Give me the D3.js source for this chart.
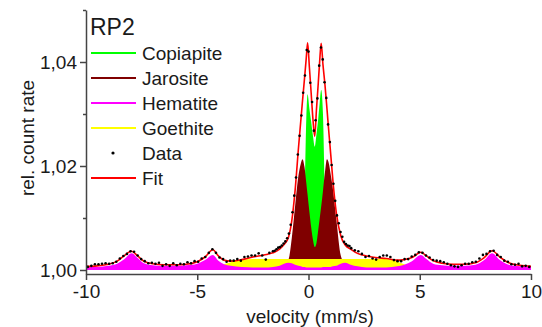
<!DOCTYPE html>
<html>
<head>
<meta charset="utf-8">
<script src="https://cdn.jsdelivr.net/npm/d3@7"></script>
<style>
body { margin: 0; background: #fff; }
svg text { font-family: "Liberation Sans", Arial, sans-serif; fill: #1a1a1a; }
</style>
</head>
<body>
<div id="chart"></div>
<script>
var width = 542;
var height = 327;

// velocity grid of the fitted sub-spectra (mm/s)
var velocity = [-10, -9.5, -9.0, -8.6, -8.3, -7.95, -7.7, -7.4, -7.0, -6.5,
  -6.0, -5.5, -5.0, -4.65, -4.3, -4.05, -3.8, -3.5, -3.0, -2.5,
  -2.0, -1.6, -1.3, -1.1, -0.9, -0.75, -0.6, -0.45, -0.35, -0.27,
  -0.18, -0.1, -0.04, 0.04, 0.12, 0.2, 0.28, 0.36, 0.44, 0.5,
  0.57, 0.65, 0.74, 0.83, 0.92, 1.0, 1.1, 1.25, 1.45, 1.65,
  1.9, 2.2, 2.6, 3.0, 3.5, 4.0, 4.3, 4.65, 5.05, 5.3,
  5.6, 6.0, 6.5, 7.0, 7.5, 7.9, 8.25, 8.6, 9.0, 9.5,
  10];

var copiapite = [1.0000, 1.0000, 1.0000, 1.0000, 1.0000, 1.0000, 1.0000, 1.0000, 1.0000, 1.0000,
  1.0000, 1.0000, 1.0000, 1.0000, 1.0000, 1.0000, 1.0000, 1.0000, 1.0000, 1.0000,
  1.0000, 1.0000, 1.0001, 1.0002, 1.0003, 1.0005, 1.0008, 1.0014, 1.0025, 1.0045,
  1.0120, 1.0290, 1.0338, 1.0310, 1.0285, 1.0258, 1.0237, 1.0262, 1.0292, 1.0320,
  1.0346, 1.0300, 1.0130, 1.0050, 1.0028, 1.0018, 1.0012, 1.0007, 1.0004, 1.0003,
  1.0002, 1.0001, 1.0000, 1.0000, 1.0000, 1.0000, 1.0000, 1.0000, 1.0000, 1.0000,
  1.0000, 1.0000, 1.0000, 1.0000, 1.0000, 1.0000, 1.0000, 1.0000, 1.0000, 1.0000,
  1.0000];

var jarosite = [1.0000, 1.0000, 1.0000, 1.0000, 1.0000, 1.0000, 1.0000, 1.0000, 1.0000, 1.0000,
  1.0000, 1.0000, 1.0000, 1.0000, 1.0000, 1.0000, 1.0000, 1.0000, 1.0000, 1.0001,
  1.0002, 1.0004, 1.0007, 1.0011, 1.0020, 1.0062, 1.0124, 1.0182, 1.0204, 1.0213,
  1.0198, 1.0168, 1.0144, 1.0112, 1.0082, 1.0058, 1.0044, 1.0052, 1.0078, 1.0098,
  1.0122, 1.0152, 1.0188, 1.0213, 1.0204, 1.0183, 1.0155, 1.0098, 1.0028, 1.0012,
  1.0007, 1.0004, 1.0002, 1.0001, 1.0000, 1.0000, 1.0000, 1.0000, 1.0000, 1.0000,
  1.0000, 1.0000, 1.0000, 1.0000, 1.0000, 1.0000, 1.0000, 1.0000, 1.0000, 1.0000,
  1.0000];

var hematite = [1.0006, 1.0006, 1.0008, 1.0012, 1.0020, 1.0032, 1.0024, 1.0013, 1.0009, 1.0008,
  1.0008, 1.0009, 1.0012, 1.0019, 1.0029, 1.0018, 1.0011, 1.0008, 1.0006, 1.0005,
  1.0005, 1.0006, 1.0008, 1.0012, 1.0014, 1.0013, 1.0010, 1.0008, 1.0007, 1.0006,
  1.0006, 1.0005, 1.0005, 1.0005, 1.0005, 1.0005, 1.0005, 1.0005, 1.0005, 1.0005,
  1.0005, 1.0006, 1.0006, 1.0006, 1.0006, 1.0006, 1.0007, 1.0008, 1.0012, 1.0014,
  1.0010, 1.0007, 1.0005, 1.0005, 1.0005, 1.0007, 1.0010, 1.0017, 1.0029, 1.0021,
  1.0012, 1.0009, 1.0008, 1.0008, 1.0010, 1.0019, 1.0032, 1.0019, 1.0010, 1.0007,
  1.0006];

var goethite = [1.0001, 1.0001, 1.0001, 1.0001, 1.0001, 1.0001, 1.0001, 1.0001, 1.0001, 1.0001,
  1.0001, 1.0002, 1.0002, 1.0003, 1.0004, 1.0007, 1.0011, 1.0015, 1.0019, 1.0021,
  1.0021, 1.0021, 1.0021, 1.0021, 1.0021, 1.0021, 1.0021, 1.0021, 1.0021, 1.0021,
  1.0021, 1.0021, 1.0021, 1.0021, 1.0021, 1.0021, 1.0021, 1.0021, 1.0021, 1.0021,
  1.0021, 1.0021, 1.0021, 1.0021, 1.0021, 1.0021, 1.0021, 1.0021, 1.0021, 1.0021,
  1.0021, 1.0021, 1.0021, 1.0021, 1.0021, 1.0016, 1.0011, 1.0006, 1.0004, 1.0003,
  1.0002, 1.0001, 1.0001, 1.0001, 1.0001, 1.0001, 1.0001, 1.0001, 1.0001, 1.0001,
  1.0001];

var fit = [1.0007, 1.0008, 1.0011, 1.0017, 1.0027, 1.0036, 1.0028, 1.0017, 1.0012, 1.0010,
  1.0010, 1.0011, 1.0016, 1.0025, 1.0039, 1.0027, 1.0019, 1.0017, 1.0020, 1.0025,
  1.0029, 1.0033, 1.0040, 1.0049, 1.0063, 1.0095, 1.0154, 1.0235, 1.0285, 1.0325,
  1.0368, 1.0408, 1.0437, 1.0390, 1.0340, 1.0290, 1.0257, 1.0310, 1.0360, 1.0400,
  1.0436, 1.0395, 1.0356, 1.0310, 1.0262, 1.0222, 1.0170, 1.0110, 1.0066, 1.0048,
  1.0040, 1.0032, 1.0027, 1.0024, 1.0022, 1.0019, 1.0020, 1.0024, 1.0034, 1.0027,
  1.0018, 1.0013, 1.0011, 1.0011, 1.0014, 1.0024, 1.0037, 1.0025, 1.0014, 1.0009,
  1.0007];

// measured points
var dataVelocity = [-9.92, -9.76, -9.60, -9.44, -9.28, -9.12, -8.96, -8.80, -8.64, -8.48,
  -8.32, -8.16, -8.00, -7.84, -7.68, -7.52, -7.36, -7.20, -7.04, -6.88,
  -6.72, -6.56, -6.40, -6.24, -6.08, -5.92, -5.76, -5.60, -5.44, -5.28,
  -5.12, -4.96, -4.80, -4.64, -4.48, -4.32, -4.16, -4.00, -3.84, -3.68,
  -3.52, -3.36, -3.20, -3.04, -2.88, -2.72, -2.56, -2.40, -2.24, -2.08,
  -1.92, -1.76, -1.60,
  -1.52, -1.44, -1.36, -1.28, -1.20, -1.12, -1.04, -0.96, -0.88, -0.80,
  -0.72, -0.64, -0.56, -0.48, -0.40, -0.32, -0.24, -0.16, -0.08, 0.00,
  0.08, 0.16, 0.24, 0.32, 0.40, 0.48, 0.56, 0.64, 0.72, 0.80,
  0.88, 0.96, 1.04, 1.12, 1.20, 1.28, 1.36, 1.44, 1.52, 1.60,
  1.68, 1.76, 1.84, 1.92,
  2.08, 2.24, 2.40, 2.56, 2.72, 2.88, 3.04, 3.20, 3.36, 3.52,
  3.68, 3.84, 4.00, 4.16, 4.32, 4.48, 4.64, 4.80, 4.96, 5.12,
  5.28, 5.44, 5.60, 5.76, 5.92, 6.08, 6.24, 6.40, 6.56, 6.72,
  6.88, 7.04, 7.20, 7.36, 7.52, 7.68, 7.84, 8.00, 8.16, 8.32,
  8.48, 8.64, 8.80, 8.96, 9.12, 9.28, 9.44, 9.60, 9.76, 9.92];

var dataRate = [1.0006, 1.0008, 1.0011, 1.0011, 1.0012, 1.0013, 1.0012, 1.0013, 1.0016, 1.0022,
  1.0027, 1.0031, 1.0036, 1.0035, 1.0028, 1.0021, 1.0017, 1.0013, 1.0014, 1.0012,
  1.0014, 1.0008, 1.0011, 1.0008, 1.0013, 1.0009, 1.0012, 1.0011, 1.0015, 1.0013,
  1.0017, 1.0016, 1.0022, 1.0025, 1.0033, 1.0040, 1.0033, 1.0024, 1.0021, 1.0016,
  1.0018, 1.0018, 1.0021, 1.0018, 1.0025, 1.0026, 1.0028, 1.0028, 1.0032, 1.0028,
  1.0020, 1.0033, 1.0036,
  1.0037, 1.0040, 1.0043, 1.0044, 1.0047, 1.0051, 1.0055, 1.0061, 1.0070, 1.0087,
  1.0111, 1.0143, 1.0178, 1.0222, 1.0258, 1.0297, 1.0341, 1.0374, 1.0423, 1.0420,
  1.0360, 1.0323, 1.0268, 1.0288, 1.0330, 1.0393, 1.0428, 1.0405, 1.0361, 1.0331,
  1.0280, 1.0246, 1.0202, 1.0166, 1.0133, 1.0105, 1.0090, 1.0073, 1.0064, 1.0054,
  1.0050, 1.0047, 1.0046, 1.0042,
  1.0038, 1.0036, 1.0031, 1.0025, 1.0027, 1.0022, 1.0020, 1.0025, 1.0028, 1.0028,
  1.0025, 1.0019, 1.0017, 1.0017, 1.0021, 1.0021, 1.0026, 1.0029, 1.0034, 1.0033,
  1.0028, 1.0024, 1.0019, 1.0018, 1.0017, 1.0015, 1.0012, 1.0009, 1.0007, 1.0006,
  1.0009, 1.0012, 1.0012, 1.0015, 1.0016, 1.0022, 1.0029, 1.0031, 1.0036, 1.0037,
  1.0029, 1.0025, 1.0018, 1.0016, 1.0011, 1.0010, 1.0012, 1.0007, 1.0008, 1.0006];

var xTicks = [-10, -5, 0, 5, 10];
var yTicks = [1.00, 1.02, 1.04];
var yMinorTicks = [1.01, 1.03, 1.05];

var legendNames = ["Copiapite", "Jarosite", "Hematite", "Goethite", "Data", "Fit"];
var legendColors = ["#00ff00", "#800000", "#ff00ff", "#ffff00", "#000000", "#ff0000"];

function drawChart(){

var xScale = d3.scaleLinear()
               .domain([-10, 10])
               .range([86, 531]);

var yScale = d3.scaleLinear()
               .domain([0.99923, 1.05])
               .range([274, 10]);

var svg = d3.select("#chart")
            .append("svg")
            .attr("width", width)
            .attr("height", height);

// sub-spectra, filled down to 1,00
function areaOf(values){
  return d3.area()
           .x(function(d, i){ return xScale(velocity[i]); })
           .y0(yScale(1.0))
           .y1(function(d){ return yScale(d); })
           .curve(d3.curveMonotoneX)(values);
}

var fills = [[copiapite, "#00ff00"], [jarosite, "#800000"], [goethite, "#ffff00"], [hematite, "#ff00ff"]];
fills.forEach(function(f){
  svg.append("path")
     .attr("d", areaOf(f[0]))
     .attr("fill", f[1])
     .attr("stroke", "none");
});

var fitLine = d3.line()
                .x(function(d, i){ return xScale(velocity[i]); })
                .y(function(d){ return yScale(d); })
                .curve(d3.curveMonotoneX);

svg.append("path")
   .datum(fit)
   .attr("d", fitLine)
   .attr("fill", "none")
   .attr("stroke", "#ff0000")
   .attr("stroke-width", 1.6);

svg.append("g")
   .selectAll("circle")
   .data(dataRate)
   .enter()
   .append("circle")
   .attr("cx", function(d, i){ return xScale(dataVelocity[i]); })
   .attr("cy", function(d){ return yScale(d); })
   .attr("r", 1.3)
   .attr("fill", "#000");

// axes
var xAxis = d3.axisBottom(xScale)
              .tickValues(xTicks)
              .tickSize(6)
              .tickSizeOuter(0)
              .tickPadding(5)
              .tickFormat(function(d){ return String(d); });

var yAxis = d3.axisLeft(yScale)
              .tickValues(yTicks)
              .tickSize(6)
              .tickSizeOuter(0)
              .tickPadding(3)
              .tickFormat(function(d){ return d.toFixed(2).replace(".", ","); });

var yMinor = d3.axisLeft(yScale)
               .tickValues(yMinorTicks)
               .tickSize(3)
               .tickSizeOuter(0)
               .tickFormat("");

var gx = svg.append("g")
   .attr("transform", "translate(0," + yScale.range()[0] + ")")
   .call(xAxis);

var gy = svg.append("g")
   .attr("transform", "translate(" + xScale.range()[0] + ",0)")
   .call(yAxis);

var gm = svg.append("g")
   .attr("transform", "translate(" + xScale.range()[0] + ",0)")
   .call(yMinor);
gm.select(".domain").remove();

[gx, gy, gm].forEach(function(g){
  g.selectAll("path, line").attr("stroke", "#444").attr("stroke-width", 1.5);
  g.selectAll("text")
   .attr("font-size", 19)
   .attr("font-family", "Liberation Sans, Arial, sans-serif")
   .attr("fill", "#1a1a1a");
});

svg.append("text")
   .attr("x", 310)
   .attr("y", 323)
   .attr("text-anchor", "middle")
   .attr("font-size", 19)
   .text("velocity (mm/s)");

svg.append("text")
   .attr("transform", "translate(34,138) rotate(-90)")
   .attr("text-anchor", "middle")
   .attr("font-size", 19)
   .text("rel. count rate");

// legend
svg.append("text")
   .attr("x", 90)
   .attr("y", 35)
   .attr("font-size", 23)
   .text("RP2");

var legend = svg.append("g");
legendNames.forEach(function(name, i){
  var y = 53 + i * 25;
  if (name === "Data") {
    legend.append("circle")
          .attr("cx", 113).attr("cy", y).attr("r", 1.6)
          .attr("fill", legendColors[i]);
  } else {
    legend.append("line")
          .attr("x1", 91).attr("x2", 136)
          .attr("y1", y).attr("y2", y)
          .attr("stroke", legendColors[i])
          .attr("stroke-width", 2);
  }
  legend.append("text")
        .attr("x", 142)
        .attr("y", y + 7)
        .attr("font-size", 19)
        .text(name);
});
}

window.onload = drawChart;
</script>
</body>
</html>
